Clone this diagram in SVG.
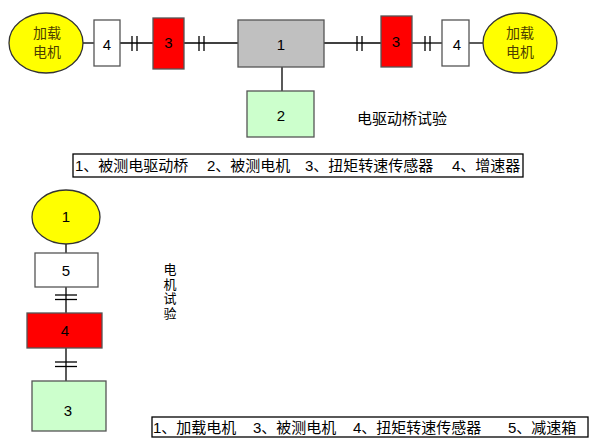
<svg xmlns="http://www.w3.org/2000/svg" width="590" height="440" viewBox="0 0 590 440">
<style>
text{font-family:"Liberation Sans","Noto Sans CJK SC",sans-serif;fill:#000}
.n{font-size:15px;text-anchor:middle}
.e{font-size:14px;text-anchor:middle;fill:#4d4000}
.lg{font-size:15px}
.v{font-size:13px;text-anchor:middle}
.box{stroke:#555;stroke-width:1.3}
.ln{stroke:#000;stroke-width:1.3;fill:none}
.cp{stroke:#000;stroke-width:1.3}
</style>
<rect width="590" height="440" fill="#fff"/>
<g id="connectors">
<line class="ln" x1="83" y1="43" x2="94" y2="43"/>
<line class="ln" x1="120" y1="43" x2="153" y2="43"/>
<line class="ln" x1="184" y1="43" x2="238" y2="43"/>
<line class="ln" x1="324" y1="43" x2="381" y2="43"/>
<line class="ln" x1="412" y1="43" x2="442" y2="43"/>
<line class="ln" x1="469" y1="43" x2="483" y2="43"/>
<line class="ln" x1="282" y1="67" x2="282" y2="91"/>
<g class="cp">
<line x1="132" y1="36" x2="132" y2="51"/><line x1="137" y1="36" x2="137" y2="51"/>
<line x1="199" y1="36" x2="199" y2="51"/><line x1="204" y1="36" x2="204" y2="51"/>
<line x1="357" y1="36" x2="357" y2="51"/><line x1="362" y1="36" x2="362" y2="51"/>
<line x1="425" y1="36" x2="425" y2="51"/><line x1="430" y1="36" x2="430" y2="51"/>
</g>
<line class="ln" x1="66" y1="244" x2="66" y2="253"/>
<line class="ln" x1="66" y1="287" x2="66" y2="313"/>
<line class="ln" x1="66" y1="348" x2="66" y2="381"/>
<g class="cp">
<line x1="55" y1="295" x2="77" y2="295"/><line x1="55" y1="299.5" x2="77" y2="299.5"/>
<line x1="55" y1="362" x2="77" y2="362"/><line x1="55" y1="366.5" x2="77" y2="366.5"/>
</g>
</g>
<g id="motorL"><ellipse cx="46" cy="43" rx="37" ry="30" fill="#ffff00" stroke="#333" stroke-width="1.3"/><text class="e" x="47" y="38">加载</text><text class="e" x="47" y="57">电机</text></g>
<g id="gearL"><rect class="box" x="94" y="20" width="26" height="46" fill="#fff"/><text class="n" x="107" y="50">4</text></g>
<g id="sensorL"><rect class="box" x="153" y="18" width="31" height="51" fill="#ff0000"/><text class="n" x="168.5" y="48">3</text></g>
<g id="axle"><rect class="box" x="238" y="20" width="86" height="47" fill="#c0c0c0"/><text class="n" x="281" y="50">1</text></g>
<g id="motorT"><rect class="box" x="247" y="91" width="67" height="46" fill="#ccffcc"/><text class="n" x="281" y="121">2</text></g>
<g id="sensorR"><rect class="box" x="381" y="16" width="31" height="51" fill="#ff0000"/><text class="n" x="396" y="47">3</text></g>
<g id="gearR"><rect class="box" x="442" y="20" width="27" height="46" fill="#fff"/><text class="n" x="457" y="50">4</text></g>
<g id="motorR"><ellipse cx="520" cy="43" rx="37" ry="30" fill="#ffff00" stroke="#333" stroke-width="1.3"/><text class="e" x="520" y="38">加载</text><text class="e" x="520" y="57">电机</text></g>
<text class="lg" x="357" y="124">电驱动桥试验</text>
<g id="legend1">
<rect x="73" y="154" width="450" height="23" fill="none" stroke="#000" stroke-width="1.3"/>
<text class="lg" x="75" y="171">1、被测电驱动桥</text>
<text class="lg" x="207" y="171">2、被测电机</text>
<text class="lg" x="305" y="171">3、扭矩转速传感器</text>
<text class="lg" x="452" y="171">4、增速器</text>
</g>
<g id="b1"><ellipse cx="66" cy="217" rx="34" ry="27" fill="#ffff00" stroke="#333" stroke-width="1.3"/><text class="n" x="66" y="222">1</text></g>
<g id="b5"><rect class="box" x="35" y="253" width="63" height="34" fill="#fff"/><text class="n" x="66" y="276">5</text></g>
<g id="b4"><rect class="box" x="27" y="313" width="75" height="35" fill="#ff0000"/><text class="n" x="65" y="336">4</text></g>
<g id="b3"><rect class="box" x="32" y="381" width="74" height="50" fill="#ccffcc"/><text class="n" x="68" y="416">3</text></g>
<g id="vtitle">
<text class="v" x="170" y="274">电</text><text class="v" x="170" y="288.5">机</text><text class="v" x="170" y="303">试</text><text class="v" x="170" y="317.5">验</text>
</g>
<g id="legend2">
<rect x="152" y="417" width="436" height="20" fill="none" stroke="#000" stroke-width="1.3"/>
<text class="lg" x="153" y="433">1、加载电机</text>
<text class="lg" x="253" y="433">3、被测电机</text>
<text class="lg" x="353" y="433">4、扭矩转速传感器</text>
<text class="lg" x="508" y="433">5、减速箱</text>
</g>
</svg>
